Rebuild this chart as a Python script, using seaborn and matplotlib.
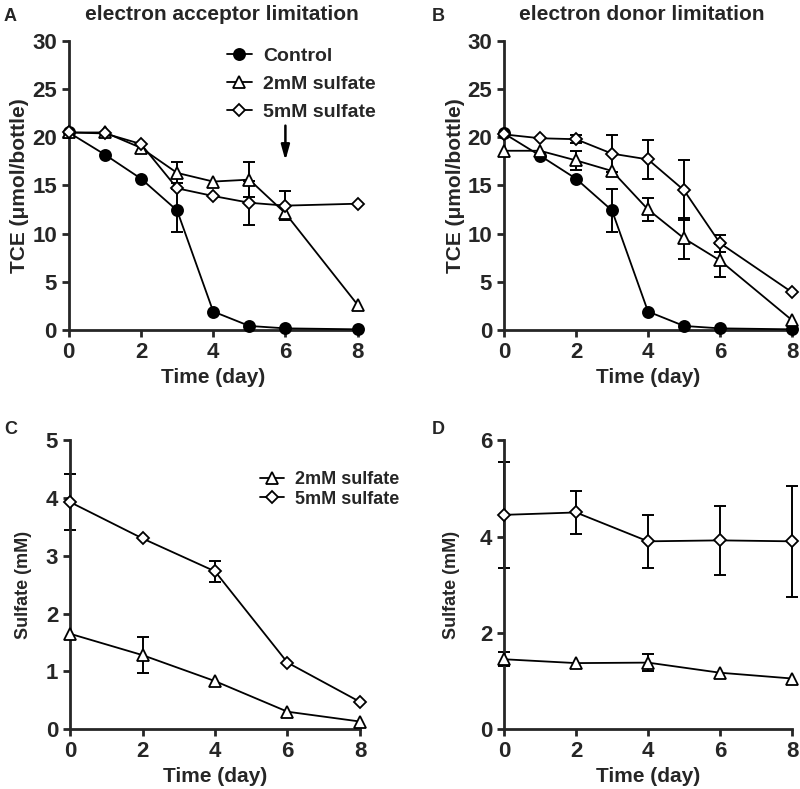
import numpy as np
import matplotlib
matplotlib.use('Agg')
import matplotlib.pyplot as plt
import seaborn as sns

sns.set_style('ticks')
plt.rcParams['font.family'] = ['Liberation Sans', 'DejaVu Sans']
plt.rcParams['font.weight'] = 'bold'

# TCE time points (day)
days_tce = [0, 1, 2, 3, 4, 5, 6, 8]
# sulfate time points (day)
days_sul = [0, 2, 4, 6, 8]

# panel A - electron acceptor limitation
a_ctrl = [20.5, 18.2, 15.7, 12.4, 1.9, 0.4, 0.15, 0.05]
a_ctrl_err = [0, 0, 0, 2.2, 0, 0, 0, 0]
a_2mm = [20.5, 20.5, 18.9, 16.3, 15.4, 15.6, 12.1, 2.6]
a_2mm_err = [0, 0, 0, 1.1, 0, 1.8, 0, 0]
a_5mm = [20.5, 20.4, 19.3, 14.7, 13.9, 13.2, 12.9, 13.1]
a_5mm_err = [0, 0, 0, 0, 0, 2.3, 1.5, 0]

# panel B - electron donor limitation
b_ctrl = [20.4, 18.1, 15.7, 12.4, 1.9, 0.4, 0.15, 0.05]
b_ctrl_err = [0, 0, 0, 2.2, 0, 0, 0, 0]
b_2mm = [18.6, 18.6, 17.6, 16.5, 12.5, 9.5, 7.2, 1.0]
b_2mm_err = [0, 0, 1.0, 0, 1.2, 2.1, 1.7, 0]
b_5mm = [20.3, 19.9, 19.8, 18.3, 17.7, 14.5, 9.0, 3.9]
b_5mm_err = [0, 0, 0.4, 1.9, 2.0, 3.1, 0.9, 0]

# panel C - sulfate, acceptor limitation
c_2mm = [1.65, 1.28, 0.83, 0.30, 0.13]
c_2mm_err = [0, 0.31, 0, 0, 0]
c_5mm = [3.93, 3.30, 2.73, 1.15, 0.47]
c_5mm_err = [0.49, 0, 0.18, 0, 0]

# panel D - sulfate, donor limitation
d_2mm = [1.45, 1.37, 1.38, 1.17, 1.05]
d_2mm_err = [0.15, 0, 0.17, 0, 0]
d_5mm = [4.45, 4.50, 3.90, 3.92, 3.90]
d_5mm_err = [1.1, 0.45, 0.55, 0.72, 1.15]

styles = {
    'Control': dict(marker='o', markerfacecolor='k', markersize=8),
    '2mM sulfate': dict(marker='^', markerfacecolor='white', markersize=8),
    '5mM sulfate': dict(marker='D', markerfacecolor='white', markersize=5.8),
}


def draw_series(ax, x, y, err, name):
    sns.lineplot(x=x, y=y, ax=ax, color='k', lw=1.3, markeredgecolor='k',
                 markeredgewidth=1.3, label=name, clip_on=False, zorder=3, **styles[name])
    x = np.array(x)
    y = np.array(y)
    err = np.array(err)
    m = err > 0
    if m.any():
        ax.errorbar(x[m], y[m], yerr=err[m], fmt='none', ecolor='k',
                    elinewidth=1.4, capsize=4, capthick=1.4, zorder=2, clip_on=False)


def style_axes(ax, ymax, yticks, ylabel, ylabel_size, labelpad):
    ax.set_xlim(0, 8)
    ax.set_ylim(0, ymax)
    ax.set_xticks([0, 2, 4, 6, 8])
    ax.set_yticks(yticks)
    ax.tick_params(width=2, length=5, labelsize=16)
    for lab in ax.get_xticklabels() + ax.get_yticklabels():
        lab.set_fontweight('bold')
    for s in ['left', 'bottom']:
        ax.spines[s].set_linewidth(2)
    sns.despine(ax=ax)
    ax.set_xlabel('Time (day)', fontsize=15, fontweight='bold')
    ax.set_ylabel(ylabel, fontsize=ylabel_size, fontweight='bold', labelpad=labelpad)


fig = plt.figure(figsize=(8, 7.89), dpi=100)
axA = fig.add_axes([0.086, 0.582, 0.361, 0.366])
axB = fig.add_axes([0.630, 0.582, 0.360, 0.366])
axC = fig.add_axes([0.0875, 0.076, 0.3625, 0.366])
axD = fig.add_axes([0.630, 0.076, 0.360, 0.366])

draw_series(axA, days_tce, a_ctrl, a_ctrl_err, 'Control')
draw_series(axA, days_tce, a_2mm, a_2mm_err, '2mM sulfate')
draw_series(axA, days_tce, a_5mm, a_5mm_err, '5mM sulfate')
axA.annotate('', xy=(6, 17.3), xytext=(6, 21.5),
             arrowprops=dict(arrowstyle='-|>,head_length=0.9,head_width=0.25', color='k', lw=1.8))
style_axes(axA, 30, [0, 5, 10, 15, 20, 25, 30], 'TCE (μmol/bottle)', 15, 2)
axA.legend(loc='upper right', bbox_to_anchor=(1.125, 1.04), frameon=False,
           handlelength=1.3, handletextpad=0.6, labelspacing=0.55, prop=dict(weight='bold', size=14))
axA.text(0.53, 1.06, 'electron acceptor limitation', transform=axA.transAxes, ha='center',
         va='bottom', fontsize=15, fontweight='bold')

draw_series(axB, days_tce, b_ctrl, b_ctrl_err, 'Control')
draw_series(axB, days_tce, b_2mm, b_2mm_err, '2mM sulfate')
draw_series(axB, days_tce, b_5mm, b_5mm_err, '5mM sulfate')
style_axes(axB, 30, [0, 5, 10, 15, 20, 25, 30], 'TCE (μmol/bottle)', 15, 2)
axB.get_legend().remove()
axB.text(0.48, 1.06, 'electron donor limitation', transform=axB.transAxes, ha='center',
         va='bottom', fontsize=15, fontweight='bold')

draw_series(axC, days_sul, c_2mm, c_2mm_err, '2mM sulfate')
draw_series(axC, days_sul, c_5mm, c_5mm_err, '5mM sulfate')
style_axes(axC, 5, [0, 1, 2, 3, 4, 5], 'Sulfate (mM)', 13, 10)
axC.legend(loc='upper right', bbox_to_anchor=(1.19, 0.95), frameon=False,
           handlelength=1.3, handletextpad=0.6, labelspacing=0.15, prop=dict(weight='bold', size=13))

draw_series(axD, days_sul, d_2mm, d_2mm_err, '2mM sulfate')
draw_series(axD, days_sul, d_5mm, d_5mm_err, '5mM sulfate')
style_axes(axD, 6, [0, 2, 4, 6], 'Sulfate (mM)', 13, 14)
axD.get_legend().remove()

for lab, (x, y) in zip('ABCD', [(0.005, 0.99), (0.54, 0.99), (0.005, 0.466), (0.54, 0.466)]):
    fig.text(x, y, lab, fontsize=13, fontweight='bold', va='top')

fig.savefig('out.png', dpi=100)
